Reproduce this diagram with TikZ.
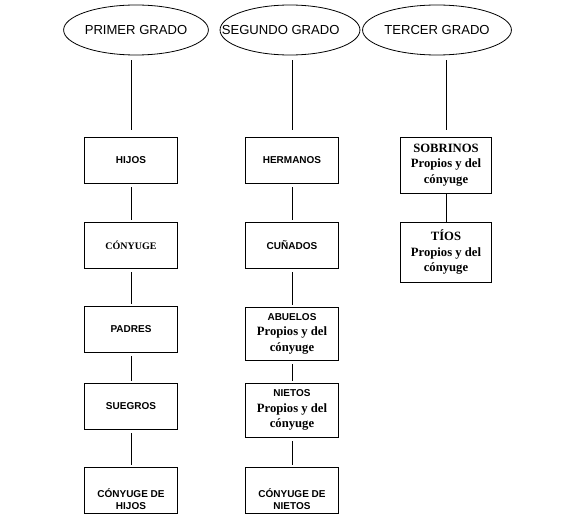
\documentclass[tikz,border=0pt]{standalone}
\usepackage{fontspec}
\setmainfont{Liberation Serif}
\newfontfamily\arial{Liberation Sans}
\usetikzlibrary{shapes.geometric,positioning}
\def\tnr{\rmfamily\bfseries\fontsize{9.5}{11.6}\selectfont}
\def\prop{\tnr Propios y del\\\tnr c\'onyuge}

\begin{document}
\begin{tikzpicture}[x=0.75pt,y=-0.75pt,line width=0.6pt,
  grado/.style={draw,ellipse,inner sep=0pt,minimum height=37.5pt,
    font=\arial\fontsize{9.8}{11}\selectfont},
  caja/.style={draw,rectangle,align=center,inner sep=1pt,
    minimum width=69.75pt,minimum height=34.5pt,
    font=\arial\bfseries\fontsize{7.5}{8.5}\selectfont},
  mixta/.style={font=\arial\bfseries\fontsize{7.5}{11.6}\selectfont},
  serif/.style={font=\tnr},
  lazo/.style={shorten <=3pt,shorten >=1.5pt}]
  \useasboundingbox (0,0) rectangle (562,517);
  % grados
  \node[grado,minimum width=100.5pt] (primer) at (136,30) {PRIMER GRADO};
  \node[grado,minimum width=102pt] (segundo) at (290,30) {\hspace*{-14pt}SEGUNDO GRADO};
  \node[grado,minimum width=98pt] (tercer) at (437,30) {TERCER GRADO};
  % primer grado
  \node[caja] (hijos) at (131,160) {HIJOS};
  \node[caja,font=\bfseries\fontsize{7.5}{9}\selectfont] (conyuge) at (131,245) {C\'ONYUGE};
  \node[caja] (padres) at (131,329) {PADRES};
  \node[caja] (suegros) at (131,406) {SUEGROS};
  \node[caja,text height=29pt] (conhijos) at (131,490) {C\'ONYUGE DE\\HIJOS};
  % segundo grado
  \node[caja] (hermanos) at (292,160) {HERMANOS};
  \node[caja] (cunados) at (292,245) {CU\~NADOS};
  \node[caja,mixta,minimum height=39.75pt] (abuelos) at (292,333.5) {ABUELOS\\\prop};
  \node[caja,mixta,minimum height=40.5pt] (nietos) at (292,410) {NIETOS\\\prop};
  \node[caja,text height=29pt] (connietos) at (292,490) {C\'ONYUGE DE\\NIETOS};
  % tercer grado
  \node[caja,serif,minimum width=68.25pt,minimum height=42pt] (sobrinos) at (446,165)
    {SOBRINOS\\\prop};
  \node[caja,serif,minimum width=68.25pt,minimum height=45pt] (tios) at (446,252)
    {T\'IOS\\\prop};
  % lineas
  \draw[shorten <=3.75pt,shorten >=5.25pt] (primer.south -| hijos) -- (hijos);
  \draw[shorten <=3.75pt,shorten >=5.25pt] (segundo.south -| hermanos) -- (hermanos);
  \draw[shorten <=3.75pt,shorten >=5.25pt] (tercer.south -| sobrinos) -- (sobrinos);
  \draw[lazo] (hijos) -- (conyuge);
  \draw[lazo] (conyuge) -- (padres);
  \draw[lazo] (padres) -- (suegros);
  \draw[lazo] (suegros) -- (conhijos);
  \draw[lazo] (hermanos) -- (cunados);
  \draw[lazo] (cunados) -- (abuelos);
  \draw[lazo] (abuelos) -- (nietos);
  \draw[lazo] (nietos) -- (connietos);
  \draw (sobrinos) -- (tios);
\end{tikzpicture}
\end{document}
